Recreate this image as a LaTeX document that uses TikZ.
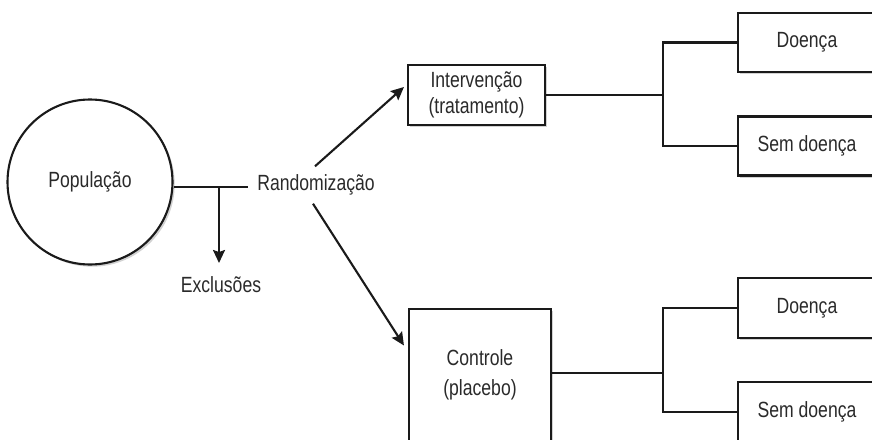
\documentclass[tikz,border=0pt]{standalone}
\usepackage{fontspec}
\setmainfont{Liberation Sans}[FakeStretch=0.8]
\usetikzlibrary{arrows.meta,shadows}
\definecolor{txt}{HTML}{2A2A2A}
\definecolor{ln}{HTML}{1A1A1A}
\tikzset{
  x=0.5pt, y=-0.5pt,
  every node/.style={text=txt, font=\fontsize{11}{13}\selectfont},
  boxshadow/.style={drop shadow={shadow xshift=1.1pt, shadow yshift=-1.1pt, fill=black!35, opacity=0.5}},
  boxnode/.style={draw=ln, line width=1.05pt, fill=white, boxshadow, align=center, inner sep=0pt},
  conn/.style={draw=ln, line width=1.05pt},
  arr/.style={conn, -{Stealth[length=6.5pt, width=6pt, inset=1pt]}},
}
\begin{document}
\begin{tikzpicture}
\useasboundingbox (0,0) rectangle (872,439);
% population
\node[boxnode, circle, minimum size=82.5pt] (pop) at (90,182) {População};
\node[inner sep=0pt] (rand) at (316,185) {Randomização};
\node[inner sep=0pt, anchor=north] (excl) at (221,276) {Exclusões};
\coordinate (rj) at (248,187);
\coordinate (ej) at (219,187);
\draw[conn] ([yshift=-2.5pt]pop.east) -- (rj);
\draw[arr] (ej) -- ([xshift=-1pt, yshift=6.5pt]excl.north);
% treatment arms
\node[boxnode, minimum width=68.5pt, minimum height=30pt] (inter) at (476.5,95) {Intervenção\\(tratamento)};
\node[boxnode, minimum width=71pt, minimum height=66pt] (ctrl) at (480,375) {Controle\\[2pt](placebo)};
\draw[arr] ([shift={(-1,-8)}]rand.north) -- ([shift={(-3,-8)}]inter.west);
\draw[arr] ([shift={(-3,8)}]rand.south) -- ([shift={(-4,-29.5)}]ctrl.west);
% outcomes
\node[boxnode, minimum width=69pt, minimum height=29.5pt] (d1) at (807,42.5) {Doença};
\node[boxnode, minimum width=69pt, minimum height=29.5pt] (s1) at (807,146) {Sem doença};
\node[boxnode, minimum width=69pt, minimum height=30pt] (d2) at (807,308) {Doença};
\node[boxnode, minimum width=69pt, minimum height=30pt] (s2) at (807,412) {Sem doença};
\coordinate (jt) at (663,95);
\coordinate (jb) at (663,373);
\draw[conn] (inter.east) -- (jt);
\draw[conn] (d1.west) -- (d1.west -| jt) -- (s1.west -| jt) -- (s1.west);
\draw[conn] (ctrl.east |- jb) -- (jb);
\draw[conn] (d2.west) -- (d2.west -| jb) -- (s2.west -| jb) -- (s2.west);
\end{tikzpicture}
\end{document}
